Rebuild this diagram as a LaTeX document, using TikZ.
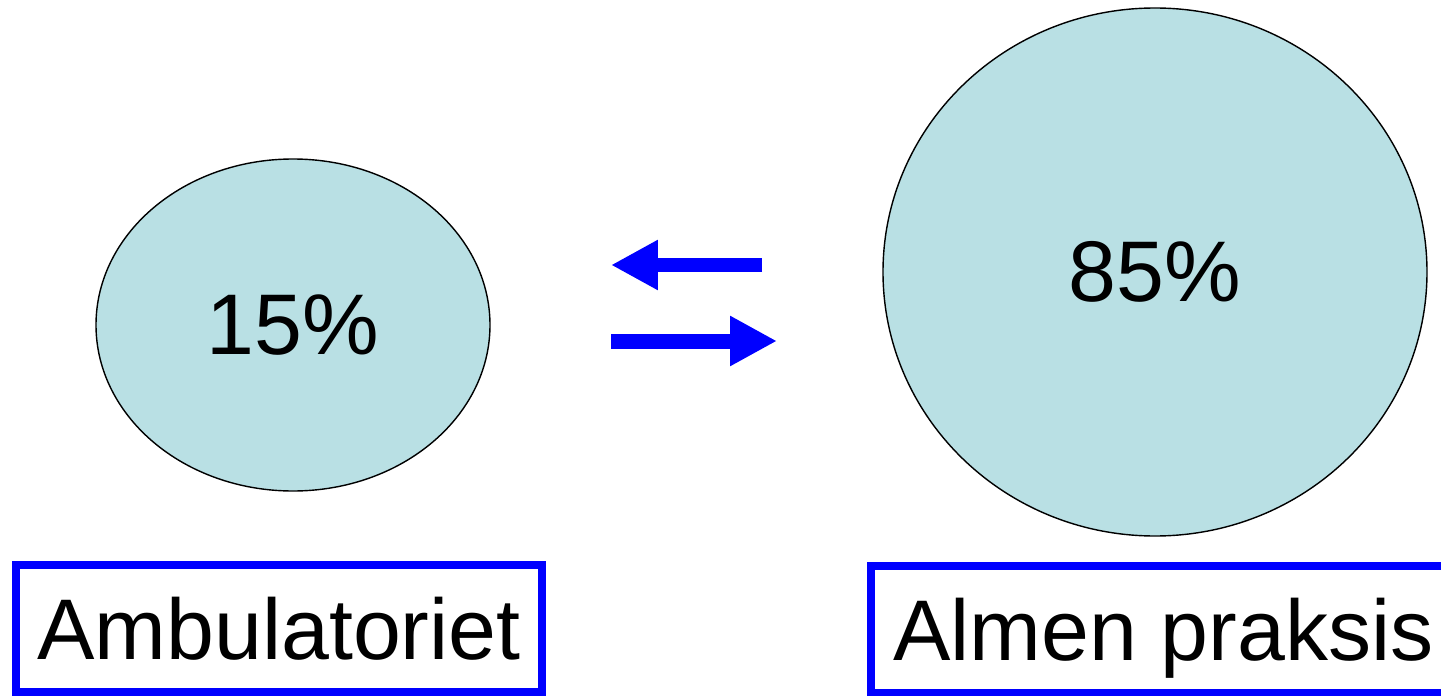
\documentclass[tikz,border=0pt]{standalone}
\usepackage{fontspec}
\setmainfont{Liberation Sans}
\usetikzlibrary{shapes.geometric,arrows.meta}
\definecolor{shareblue}{RGB}{185,224,228}
\definecolor{boxblue}{RGB}{0,0,255}

\begin{document}
\begin{tikzpicture}[x=0.02cm,y=-0.02cm,
		share/.style={ellipse,draw=black,line width=0.8pt,fill=shareblue,inner sep=0pt,
			font=\fontsize{49}{58}\selectfont},
		label/.style={rectangle,draw=boxblue,line width=0.16cm,inner sep=0pt,
			minimum height=127*0.02cm,text height=35pt,text depth=0pt,
			font=\fontsize{49}{58}\selectfont},
		flow/.style={boxblue,line width=0.3cm,-{Triangle[length=0.94cm,width=0.94cm]}}]
		\useasboundingbox (0,0) rectangle (1441,696);
		% the two shares
		\node[share,minimum width=394*0.02cm,minimum height=332*0.02cm] (amb) at (293,325){15\%};
		\node[share,minimum width=544*0.02cm,minimum height=528*0.02cm] (alm) at (1155,272){85\%};
		% names below
		\node[label,minimum width=526*0.02cm] (ambname) at (279,628.5){Ambulatoriet};
		\node[label,minimum width=574*0.02cm] (almname) at (1158,629.5){\makebox[10.6cm][l]{Almen praksis}};
		% flows both ways
		\coordinate (back0) at (762,265);
		\coordinate (back1) at (611,265);
		\coordinate (forth0) at (611,341);
		\coordinate (forth1) at (777,341);
		\draw[flow] (back0)--(back1);
		\draw[flow] (forth0)--(forth1);
	\end{tikzpicture}
\end{document}
